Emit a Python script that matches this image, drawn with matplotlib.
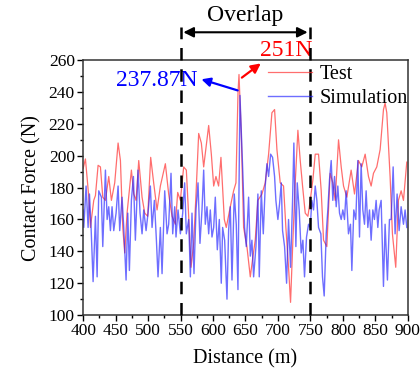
import matplotlib

matplotlib.use("Agg")
import matplotlib.pyplot as plt
from matplotlib.ticker import MultipleLocator

plt.rcParams["font.family"] = ["Liberation Serif", "DejaVu Serif"]

# Test curve
test_x = [400, 403.5, 408.7, 411.2, 416.3, 418.9, 423.0, 426.6, 430.2, 434.3, 439.4, 443.5,
          448.6, 453.8, 457.4, 461.0, 464.0, 467.6, 474.3, 477.9, 481.5, 485.6, 490.7, 494.8,
          499.4, 504.0, 508.6, 513.8, 518.9, 526.6, 531.7, 536.9, 542.0, 545.6, 549.7, 554.8,
          558.9, 562.5, 566.1, 570.2, 573.8, 577.9, 582.0, 585.6, 593.3, 597.4, 601.0, 604.5,
          608.6, 612.2, 617.4, 620.4, 626.6, 631.7, 635.3, 638.5, 640.0, 643.5, 647.1, 652.2,
          657.4, 660.9, 665.0, 669.1, 675.3, 680.4, 685.6, 690.7, 694.8, 698.4, 703.5, 708.6,
          712.2, 716.3, 719.4, 723.0, 726.6, 730.7, 734.3, 737.9, 742.0, 746.1, 749.7, 753.8,
          757.4, 762.5, 766.6, 770.2, 775.3, 780.4, 784.5, 788.1, 793.3, 797.4, 801.0, 806.1,
          812.7, 817.9, 824.0, 829.1, 834.3, 839.4, 843.5, 847.1, 852.2, 857.4, 862.5, 865.0,
          867.6, 872.7, 876.3, 881.4, 885.5, 889.7, 893.3, 898.4]
test_y = [192, 198, 174, 155, 172, 175, 194, 193, 174, 172, 187, 172,
          183, 208, 197, 155, 139, 164, 191, 176, 172, 197, 174, 164,
          162, 199, 183, 166, 181, 195, 176, 162, 157, 177, 172, 193,
          191, 162, 130, 145, 176, 214, 208, 193, 219, 201, 181, 187,
          181, 199, 160, 155, 168, 178, 183, 240, 251, 214, 155, 143,
          124, 135, 147, 172, 176, 183, 201, 227, 229, 204, 183, 181,
          155, 130, 108, 147, 183, 216, 197, 181, 164, 162, 172, 185,
          201, 201, 178, 147, 143, 189, 183, 172, 210, 193, 181, 174,
          191, 176, 197, 193, 201, 187, 181, 189, 193, 204, 229, 233,
          227, 187, 151, 130, 172, 178, 172, 196]

# Simulation curve
sim_x = [400, 401.0, 404.5, 407.6, 409.7, 412.2, 415.3, 418.9, 421.5, 424.0, 428.1, 430.2,
         434.3, 436.9, 439.4, 442.0, 444.5, 447.1, 450.7, 453.8, 456.3, 459.9, 462.5, 466.1,
         468.7, 471.2, 474.3, 477.4, 480.4, 484.5, 487.6, 490.7, 493.3, 496.9, 499.9, 503.5,
         506.1, 509.7, 512.8, 515.3, 518.9, 521.5, 525.6, 529.2, 531.7, 535.3, 537.9, 541.0,
         543.0, 546.1, 549.7, 553.3, 556.3, 558.9, 562.5, 565.1, 567.6, 570.7, 573.8, 576.9,
         579.9, 583.0, 585.6, 588.1, 590.7, 593.3, 595.8, 598.4, 601.0, 603.5, 606.6, 609.7,
         612.7, 614.8, 617.9, 621.5, 624.0, 626.6, 629.2, 632.7, 635.8, 638.4, 641.5, 643.5,
         646.1, 648.6, 651.2, 654.8, 657.4, 659.9, 662.5, 666.1, 669.1, 671.2, 674.3, 677.4,
         680.4, 683.0, 685.6, 688.7, 691.7, 694.8, 696.8, 699.9, 702.5, 705.1, 707.1, 710.2,
         713.3, 716.3, 719.4, 722.5, 724.5, 727.6, 729.7, 732.7, 735.8, 738.4, 740.9, 744.0,
         747.1, 749.7, 752.2, 754.8, 757.4, 759.9, 762.5, 766.1, 768.6, 771.2, 774.3, 776.8,
         779.4, 782.0, 784.5, 787.1, 789.7, 792.2, 794.8, 797.4, 799.9, 802.5, 805.0, 808.6,
         811.7, 813.8, 816.8, 819.9, 823.0, 825.6, 828.1, 830.7, 833.3, 835.8, 838.4, 841.0,
         843.5, 846.1, 848.6, 851.2, 853.8, 855.8, 858.9, 862.5, 865.0, 868.6, 871.7, 874.3,
         877.4, 880.4, 883.5, 886.6, 889.7, 893.3, 895.8, 898.4]
sim_y = [166, 155, 181, 155, 176, 155, 121, 162, 124, 178, 174, 143,
         191, 160, 168, 153, 168, 153, 164, 181, 153, 174, 155, 122,
         164, 128, 172, 187, 147, 191, 164, 151, 166, 153, 164, 181,
         155, 172, 147, 124, 155, 126, 178, 151, 157, 189, 151, 168,
         149, 166, 151, 164, 183, 151, 160, 124, 164, 126, 166, 183,
         145, 166, 191, 157, 168, 151, 166, 149, 155, 174, 141, 160,
         120, 155, 147, 110, 153, 168, 122, 176, 157, 116, 237.87, 216,
         187, 155, 143, 174, 137, 147, 124, 143, 176, 124, 178, 151,
         181, 195, 187, 201, 199, 187, 172, 160, 170, 183, 153, 143,
         120, 160, 130, 172, 208, 143, 183, 166, 139, 147, 124, 149,
         157, 155, 172, 166, 181, 172, 155, 151, 124, 112, 151, 166,
         185, 197, 172, 187, 168, 181, 164, 160, 166, 160, 178, 151,
         157, 128, 166, 160, 197, 149, 195, 166, 157, 178, 155, 166,
         147, 166, 160, 172, 155, 166, 172, 118, 157, 122, 160, 160,
         193, 151, 176, 153, 168, 157, 166, 155]

overlap_start, overlap_end = 550, 750

fig = plt.figure(figsize=(4.2, 3.76), dpi=100)
ax = fig.add_axes([0.198, 0.162, 0.773, 0.678])

ax.plot(test_x, test_y, color="#ff3030", lw=0.9, alpha=0.7, label="Test")
ax.plot(sim_x, sim_y, color="#2020ff", lw=1.0, alpha=0.65, label="Simulation")

ax.set_xlim(400, 900)
ax.set_ylim(100, 260)
ax.xaxis.set_major_locator(MultipleLocator(50))
ax.xaxis.set_minor_locator(MultipleLocator(25))
ax.yaxis.set_major_locator(MultipleLocator(20))
ax.yaxis.set_minor_locator(MultipleLocator(10))
ax.tick_params(which="major", direction="out", length=4, width=1, labelsize=12.5, pad=2)
ax.tick_params(which="minor", direction="out", length=2.5, width=1)
for spine in ax.spines.values():
    spine.set_linewidth(1.1)
    spine.set_color("#333333")
ax.set_xlabel("Distance (m)", fontsize=14.5, labelpad=7)
ax.set_ylabel("Contact Force (N)", fontsize=14.5, labelpad=5)

# overlap markers
for xv in (overlap_start, overlap_end):
    ax.plot([xv, xv], [100, 281], color="black", lw=1.8, dashes=(5, 3.5), clip_on=False, zorder=5)
ax.annotate("", xy=(overlap_start, 277.5), xytext=(overlap_end, 277.5),
            arrowprops=dict(arrowstyle="<|-|>", color="black", lw=1.5, mutation_scale=15),
            annotation_clip=False)
ax.text((overlap_start + overlap_end) / 2, 281.5, "Overlap", ha="center", va="bottom",
        fontsize=17, clip_on=False)

# peak labels
ax.text(576, 247.5, "237.87N", color="#0000ff", fontsize=17, ha="right", va="center",
        clip_on=False)
ax.annotate("", xy=(578, 248.5), xytext=(642, 240.5),
            arrowprops=dict(arrowstyle="-|>", color="#0000ff", lw=1.6, mutation_scale=13),
            annotation_clip=False)
ax.annotate("", xy=(677, 259), xytext=(641, 248),
            arrowprops=dict(arrowstyle="-|>", color="#ff0000", lw=1.6, mutation_scale=14),
            annotation_clip=False)
ax.text(672, 266, "251N", color="#ff0000", fontsize=17, ha="left", va="center", clip_on=False)

ax.legend(loc="upper right", bbox_to_anchor=(1.032, 1.02), frameon=False, fontsize=14.5,
          handlelength=2.2, handletextpad=0.4, labelspacing=0.25, borderaxespad=0.1)

fig.savefig("out.png", dpi=100)
